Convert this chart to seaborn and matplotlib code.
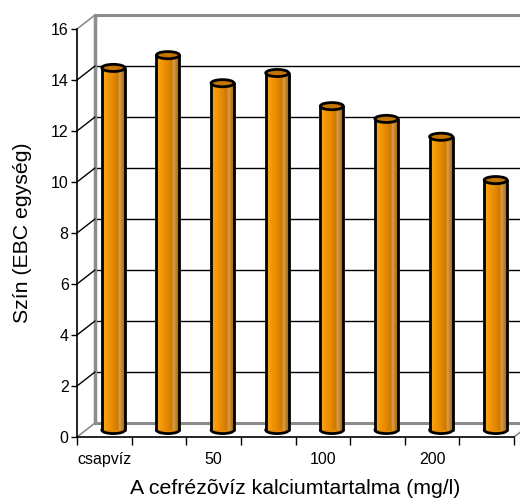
import numpy as np
import pandas as pd
import matplotlib
import matplotlib.pyplot as plt
import seaborn as sns
from matplotlib.patches import Ellipse
from matplotlib.transforms import offset_copy
from matplotlib.colors import LinearSegmentedColormap

# adatok
positions = list(range(8))
tick_labels = ["csapvíz", "", "50", "", "100", "", "200", ""]
szin = [14.2, 14.7, 13.6, 14.0, 12.7, 12.2, 11.5, 9.8]
yticks = [0, 2, 4, 6, 8, 10, 12, 14, 16]

df = pd.DataFrame({"pos": positions, "szin": szin})

sns.set_style("white")
plt.rcParams['font.family'] = ['Liberation Sans', 'DejaVu Sans']
plt.rcParams.update({"text.color": "black", "axes.labelcolor": "black",
                     "xtick.color": "black", "ytick.color": "black"})

fig = plt.figure(figsize=(5.2, 5.01), dpi=100)
ax = fig.add_axes([77 / 520, 64 / 501, 437 / 520, 408 / 501])

# 3D hatás: hátsó fal eltolása adategységben
DX, DY = 0.33, 0.55
GRAY = "#8c8c8c"

sns.barplot(data=df, x="pos", y="szin", color="#F39200", width=0.42,
            edgecolor="none", linewidth=0, ax=ax, zorder=2)

# hátsó fal, rácsvonalak
for v in yticks:
    c = GRAY if v in (0, 16) else "black"
    lw = 2.2 if v in (0, 16) else 1
    ax.plot([-0.5 + DX, 8.5], [v + DY, v + DY], color=c, lw=lw,
            clip_on=False, zorder=0.5)
    ax.plot([-0.5, -0.5 + DX], [v, v + DY], color=c, lw=1.2 if v in (0, 16) else 1,
            clip_on=False, zorder=0.6)
ax.plot([-0.5 + DX, -0.5 + DX], [DY, 16 + DY], color=GRAY, lw=2.5,
        clip_on=False, zorder=0.5)
ax.plot([7.5, 7.5 + DX], [0, DY], color=GRAY, lw=1.2, clip_on=False, zorder=0.6)

# henger oszlopok
off = offset_copy(ax.transData, fig=fig, x=9, y=7, units='dots')
cmap = LinearSegmentedColormap.from_list("henger", [
    (0.0, "#FAA628"), (0.2, "#F59A08"), (0.5, "#E48800"),
    (0.68, "#CC7800"), (0.78, "#D8A152"), (0.86, "#C58530"), (1.0, "#A86800")])
grad = np.linspace(0, 1, 64).reshape(1, -1)

for p in list(ax.patches):
    p.set_transform(off)
    x0, w, h = p.get_x(), p.get_width(), p.get_height()
    xc = x0 + w / 2
    im = ax.imshow(grad, extent=[x0, x0 + w, 0, h], aspect='auto', cmap=cmap,
                   zorder=2.5, interpolation='bilinear')
    im.set_transform(off)
    im.set_clip_on(False)
    ax.add_patch(Ellipse((xc, 0), w, 0.28, transform=off, facecolor="#E48800",
                         edgecolor="black", lw=2, zorder=1.5))
    for xe in (x0, x0 + w):
        ax.plot([xe, xe], [0, h], color="black", lw=2, transform=off, zorder=3)
    ax.add_patch(Ellipse((xc, h), w, 0.28, transform=off, facecolor="#C47400",
                         edgecolor="black", lw=2, zorder=4, clip_on=False))

ax.set_xlim(-0.5, 7.5)
ax.set_ylim(0, 16)

for s in ("top", "right"):
    ax.spines[s].set_visible(False)
for s in ("left", "bottom"):
    ax.spines[s].set_color("black")
    ax.spines[s].set_linewidth(1.2)
    ax.spines[s].set_zorder(5)
ax.set_facecolor("none")

ax.set_yticks(yticks)
ax.set_yticklabels([str(v) for v in yticks], fontsize=11.5)
ax.tick_params(axis='y', direction='out', length=4, width=1, color='black',
               left=True, pad=2)

ax.set_xticks(np.arange(-0.5, 8.0, 1.0))
ax.set_xticklabels([])
ax.tick_params(axis='x', which='major', direction='out', length=6, width=1,
               color='black', bottom=True)
ax.set_xticks(positions, minor=True)
ax.set_xticklabels(tick_labels, minor=True, fontsize=11.5)
ax.tick_params(axis='x', which='minor', length=0, pad=11)

ax.set_xlabel("A cefrézõvíz kalciumtartalma (mg/l)", fontsize=15.3)
ax.set_ylabel("Szín (EBC egység)", fontsize=15.3)
ax.xaxis.set_label_coords(0.499, -0.103)
ax.yaxis.set_label_coords(-0.103, 0.5)

fig.savefig("out.png", dpi=100)
